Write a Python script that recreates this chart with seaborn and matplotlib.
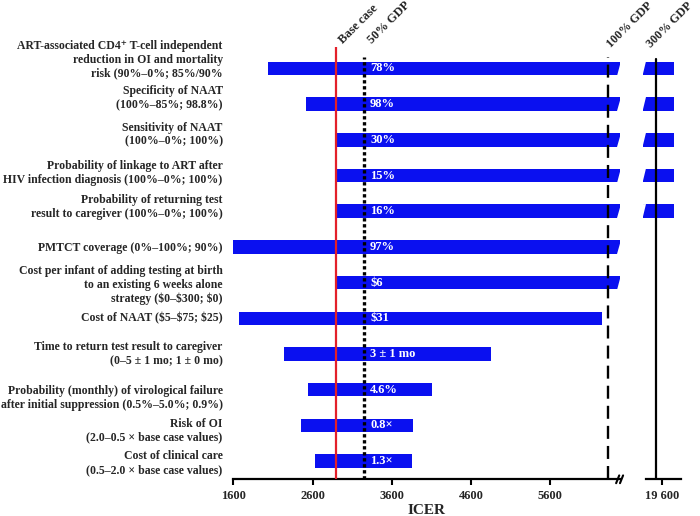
import numpy as np
import pandas as pd
import matplotlib
matplotlib.use("Agg")
import matplotlib.pyplot as plt
import matplotlib.transforms as mtransforms
import seaborn as sns

# Tornado diagram data (ICER, low/high end of each bar)
params = [
    "ART-associated CD4\u207a T-cell independent\nreduction in OI and mortality\nrisk (90%\u20130%; 85%/90%",
    "Specificity of NAAT\n(100%\u201385%; 98.8%)",
    "Sensitivity of NAAT\n(100%\u20130%; 100%)",
    "Probability of linkage to ART after\nHIV infection diagnosis (100%\u20130%; 100%)",
    "Probability of returning test\nresult to caregiver (100%\u20130%; 100%)",
    "PMTCT coverage (0%\u2013100%; 90%)",
    "Cost per infant of adding testing at birth\nto an existing 6 weeks alone\nstrategy ($0\u2013$300; $0)",
    "Cost of NAAT ($5\u2013$75; $25)",
    "Time to return test result to caregiver\n(0\u20135 \u00b1 1 mo; 1 \u00b1 0 mo)",
    "Probability (monthly) of virological failure\nafter initial suppression (0.5%\u20135.0%; 0.9%)",
    "Risk of OI\n(2.0\u20130.5 \u00d7 base case values)",
    "Cost of clinical care\n(0.5\u20132.0 \u00d7 base case values)",
]
icer_low = [2042, 2518, 2900, 2900, 2900, 1590, 2900, 1676, 2244, 2547, 2459, 2635]
icer_high = [19760, 19760, 19760, 19760, 19760, 10000, 10000, 6259, 4850, 4105, 3873, 3860]
bar_text = ["78%", "98%", "30%", "15%", "16%", "97%", "$6", "$31",
            "3 \u00b1 1 mo", "4.6%", "0.8\u00d7", "1.3\u00d7"]

base_case = 2893
gdp_50 = 3250
gdp_100 = 6335
gdp_300 = 19524

left_ticks = [1600, 2600, 3600, 4600, 5600]
right_ticks = [19600]
right_tick_labels = ["19 600"]

df = pd.DataFrame({"param": params, "low": icer_low, "high": icer_high, "txt": bar_text})
df["pos"] = np.arange(len(df))

sns.set_theme(style="white")
plt.rcParams["font.family"] = ["Liberation Serif", "DejaVu Serif"]
plt.rcParams["font.weight"] = "bold"

W, H = 700, 516
PX = 0.0792  # pixels per ICER unit
LX0, LX1 = 233.3, 620.0
RX0, RX1 = 643.0, 680.7
fig = plt.figure(figsize=(W / 100, H / 100), dpi=100)
ax = fig.add_axes([LX0 / W, 36.7 / H, (LX1 - LX0) / W, 432.3 / H])
axr = fig.add_axes([RX0 / W, 36.7 / H, (RX1 - RX0) / W, 432.3 / H])

blue = "#0a10f0"
red = "#e3202a"
bar_h = 0.38

for a in (ax, axr):
    a.barh(df["pos"], df["high"] - df["low"], left=df["low"], height=bar_h,
           color=blue, edgecolor="none", zorder=2)
    a.set_ylim(11.51, -0.60)
    for s in ["left", "top", "right"]:
        a.spines[s].set_visible(False)
    a.spines["bottom"].set_linewidth(1.6)
    a.spines["bottom"].set_color("black")
    a.tick_params(axis="x", direction="out", length=4, width=1.5, color="black",
                  labelsize=9, pad=4, bottom=True)
    a.set_yticks([])
    a.set_facecolor("none")

ax.set_xlim(1600, 6482)
r_start = 19402
axr.set_xlim(r_start - 3 / PX, 19840)
axr.spines["bottom"].set_bounds(r_start, 19840)
ax.set_xticks(left_ticks)
ax.set_xticklabels([str(t) for t in left_ticks], fontweight="bold")
axr.set_xticks(right_ticks)
axr.set_xticklabels(right_tick_labels, fontweight="bold")
ax.set_xlabel("ICER", fontsize=11, fontweight="bold", labelpad=1)

# reference lines
ax.axvline(base_case, color=red, lw=1.6, zorder=3)
ax.axvline(gdp_50, ymax=0.977, color="black", lw=2.4, ls=(0, (1, 0.8)), zorder=3)
ax.axvline(gdp_100, ymax=0.977, color="black", lw=1.7, ls=(0, (5.5, 3)), zorder=3)
axr.axvline(gdp_300, ymax=0.972, color="black", lw=1.6, zorder=3)

# slanted cut at the axis break for bars that run past it
tl = mtransforms.blended_transform_factory(ax.transAxes, ax.transData)
tr = mtransforms.blended_transform_factory(axr.transAxes, axr.transData)
lw_px = LX1 - LX0
rw_px = RX1 - RX0
for _, r in df[df["high"] > 6482].iterrows():
    y_top, y_bot = r["pos"] - bar_h / 2, r["pos"] + bar_h / 2
    ax.fill([1 - 3 / lw_px, 1.003, 1.003], [y_bot + 0.01, y_bot + 0.01, y_top - 0.01],
            transform=tl, color="white", clip_on=False, zorder=2.5, lw=0)
    if r["high"] > r_start:
        axr.fill([-0.01, 3 / rw_px, -0.01], [y_top - 0.01, y_top - 0.01, y_bot],
                 transform=tr, color="white", clip_on=False, zorder=2.5, lw=0)

# values inside bars
for _, r in df.iterrows():
    ax.text(3326, r["pos"], r["txt"], color="white", fontsize=9, fontweight="bold",
            ha="left", va="center", zorder=4)

# parameter labels on the left (slightly nudged like the original)
nudge_px = [-8.5, -6, -5, -2.5, -4.5, 1, 2.5, 0, 0, 8, 5.5, 2]
for (_, r), dy in zip(df.iterrows(), nudge_px):
    ax.text(-10.6 / lw_px, r["pos"] + dy / 35.7, r["param"], transform=tl,
            ha="right", va="center", fontsize=8.5, fontweight="bold",
            linespacing=1.2)

# rotated threshold labels
top = mtransforms.blended_transform_factory(ax.transData, ax.transAxes)
topr = mtransforms.blended_transform_factory(axr.transData, axr.transAxes)
kw = dict(rotation=45, rotation_mode="anchor", ha="left", va="bottom",
          fontsize=9, fontweight="bold")
ax.text(base_case + 9 / PX, 1.002, "Base case", transform=top, **kw)
ax.text(gdp_50 + 10 / PX, 1.002, "50% GDP", transform=top, **kw)
kw["fontsize"] = 8.7
ax.text(gdp_100 + 5 / PX, 0.992, "100% GDP", transform=top, **kw)
axr.text(gdp_300 - 3 / PX, 0.992, "300% GDP", transform=topr, **kw)

# axis break marks
for dx in (-0.006, 0.004):
    ax.plot([1.0 + dx - 0.004, 1.0 + dx + 0.004], [-0.009, 0.009], transform=ax.transAxes,
            color="black", lw=1.5, clip_on=False, zorder=5)

fig.savefig("out.png", dpi=100)
